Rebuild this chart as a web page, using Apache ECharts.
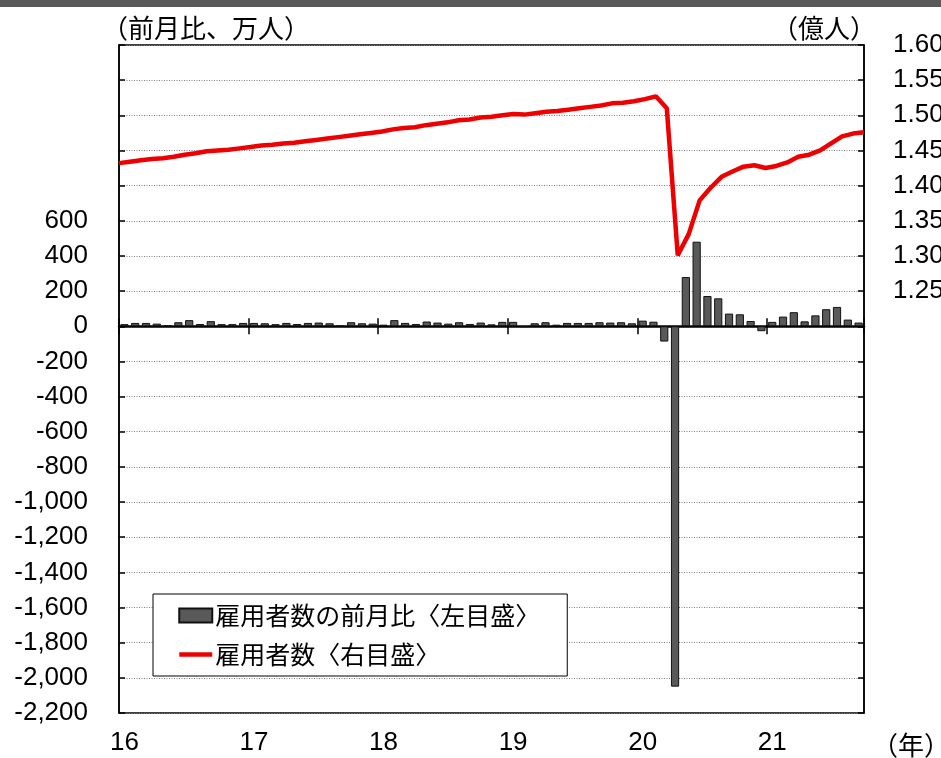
<!DOCTYPE html>
<html><head><meta charset="utf-8">
<script src="https://cdn.jsdelivr.net/npm/echarts@6/dist/echarts.min.js"></script>
<style>html,body{margin:0;padding:0;background:#fff}#c{width:941px;height:758px}</style>
</head><body><div id="c"></div>
<script>
// ---- data ----
const yearLabels = ['16', '17', '18', '19', '20', '21'];
const monthsPerYear = [12, 12, 12, 12, 12, 9];
// 雇用者数の前月比（万人）
const monthlyChange = [
  12, 19, 19, 15, 4, 23, 35, 13, 29, 12, 12, 19,
  19, 17, 12, 19, 13, 19, 21, 17, 2, 23, 17, 15,
  9, 35, 19, 13, 27, 21, 15, 23, 13, 21, 11, 25,
  25, -4, 17, 23, 9, 19, 19, 19, 23, 21, 23, 17,
  32, 26, -87, -2050, 280, 481, 172, 159, 72, 68, 30, -28,
  25, 55, 80, 28, 62, 97, 110, 38, 21
];
// 雇用者数（億人）
const employment = [
  1.432, 1.434, 1.436, 1.438, 1.439, 1.441, 1.444, 1.446, 1.449, 1.450, 1.451, 1.453,
  1.455, 1.457, 1.458, 1.460, 1.461, 1.463, 1.465, 1.467, 1.469, 1.471, 1.473, 1.475,
  1.477, 1.480, 1.482, 1.483, 1.486, 1.488, 1.490, 1.493, 1.494, 1.497, 1.498, 1.500,
  1.502, 1.501, 1.503, 1.505, 1.506, 1.508, 1.510, 1.512, 1.514, 1.517, 1.518, 1.520,
  1.523, 1.527, 1.510, 1.301, 1.331, 1.379, 1.397, 1.4125, 1.420, 1.427, 1.429, 1.425,
  1.428, 1.433, 1.441, 1.444, 1.450, 1.460, 1.470, 1.474, 1.476
];
const barName = '雇用者数の前月比〈左目盛〉';
const lineName = '雇用者数〈右目盛〉';
const leftUnit = '（前月比、万人）';
const rightUnit = '（億人）';
const xUnit = '（年）';

// categories built from year labels
const categories = [];
yearLabels.forEach((y, yi) => { for (let m = 1; m <= monthsPerYear[yi]; m++) categories.push(y + '/' + m); });

const NUM_FONT = '"Liberation Sans", Arial, sans-serif';
const JP_FONT = '"Noto Sans CJK JP", sans-serif';
const isJan = (i) => i % 12 === 0;

const chart = echarts.init(document.getElementById('c'), null, { renderer: 'canvas' });
chart.setOption({
  animation: false,
  backgroundColor: '#fff',
  grid: { left: 119, right: 77, top: 45, bottom: 45, show: true, borderColor: '#000', borderWidth: 1.5,
    backgroundColor: 'transparent', containLabel: false, outerBoundsMode: 'none' },
  graphic: [
    { type: 'rect', left: 0, top: 0, shape: { width: 941, height: 7 }, style: { fill: '#595959' }, silent: true },
    { type: 'text', x: 102, y: 28, style: { text: leftUnit, font: '26px ' + JP_FONT, fill: '#000', verticalAlign: 'middle' } },
    { type: 'text', x: 772, y: 28, style: { text: rightUnit, font: '26px ' + JP_FONT, fill: '#000', verticalAlign: 'middle' } },
    { type: 'text', x: 872, y: 745, style: { text: xUnit, font: '26px ' + JP_FONT, fill: '#000', verticalAlign: 'middle' } }
  ],
  legend: {
    orient: 'vertical', left: 153, top: 594,
    padding: [9, 27, 9, 24], itemGap: 14, itemWidth: 33, itemHeight: 14,
    backgroundColor: '#fff', borderColor: '#000', borderWidth: 1,
    textStyle: { fontFamily: JP_FONT, fontSize: 25, color: '#000', padding: [0, 0, 0, -2] },
    data: [
      { name: barName, icon: 'rect' },
      { name: lineName, itemStyle: { opacity: 0, borderWidth: 0 },
        lineStyle: { color: '#ee0000', width: 4.5, opacity: 1 } }
    ]
  },
  xAxis: [
    { type: 'category', data: categories, boundaryGap: true, position: 'bottom',
      axisLine: { onZero: false, show: false },
      axisTick: { show: false },
      axisLabel: { interval: isJan, formatter: (v) => v.split('/')[0], margin: 17,
        fontFamily: NUM_FONT, fontSize: 26, color: '#000' },
      splitLine: { show: false } },
    { type: 'category', data: categories, boundaryGap: true, position: 'bottom',
      axisLine: { onZero: true, onZeroAxisIndex: 0, lineStyle: { color: '#000', width: 2.5 } },
      axisTick: { show: true, interval: isJan, length: 8, lineStyle: { color: '#000', width: 1.5 } },
      axisLabel: { show: false }, splitLine: { show: false } },
    { type: 'category', data: categories, boundaryGap: true, position: 'bottom',
      axisLine: { onZero: true, onZeroAxisIndex: 0, show: false },
      axisTick: { show: true, inside: true, interval: isJan, length: 8, lineStyle: { color: '#000', width: 1.5 } },
      axisLabel: { show: false }, splitLine: { show: false } },
    { type: 'category', data: categories, boundaryGap: false, show: false }
  ],
  yAxis: [
    { type: 'value', min: -2200, max: 1600, interval: 200, position: 'left',
      axisLine: { show: true, lineStyle: { color: '#000', width: 1.5 } },
      axisTick: { show: true, inside: true, length: 6, lineStyle: { color: '#000', width: 1.5 } },
      axisLabel: { margin: 31, fontFamily: NUM_FONT, fontSize: 26, color: '#000',
        formatter: (v) => v > 600 ? '' : echarts.format.addCommas(v) },
      splitLine: { show: true, lineStyle: { color: '#7f7f7f', width: 1, type: [1, 1.5] } } },
    { type: 'value', min: 0.65, max: 1.60, interval: 0.05, position: 'right',
      axisLine: { show: true, lineStyle: { color: '#000', width: 1.5 } },
      axisTick: { show: true, inside: true, length: 6, lineStyle: { color: '#000', width: 1.5 } },
      axisLabel: { margin: 29, fontFamily: NUM_FONT, fontSize: 26, color: '#000',
        formatter: (v) => v > 1.2499 ? v.toFixed(2) : '' },
      splitLine: { show: false } }
  ],
  series: [
    { name: barName, type: 'bar', xAxisIndex: 0, yAxisIndex: 0, data: monthlyChange,
      barCategoryGap: '24%',
      itemStyle: { color: '#595959', borderColor: '#111', borderWidth: 1 }, z: 2 },
    { name: lineName, type: 'line', xAxisIndex: 3, yAxisIndex: 1, data: employment,
      symbol: 'none', showSymbol: false, lineStyle: { color: '#ee0000', width: 4.5 }, itemStyle: { color: '#ee0000' }, z: 5 }
  ]
});
</script></body></html>
